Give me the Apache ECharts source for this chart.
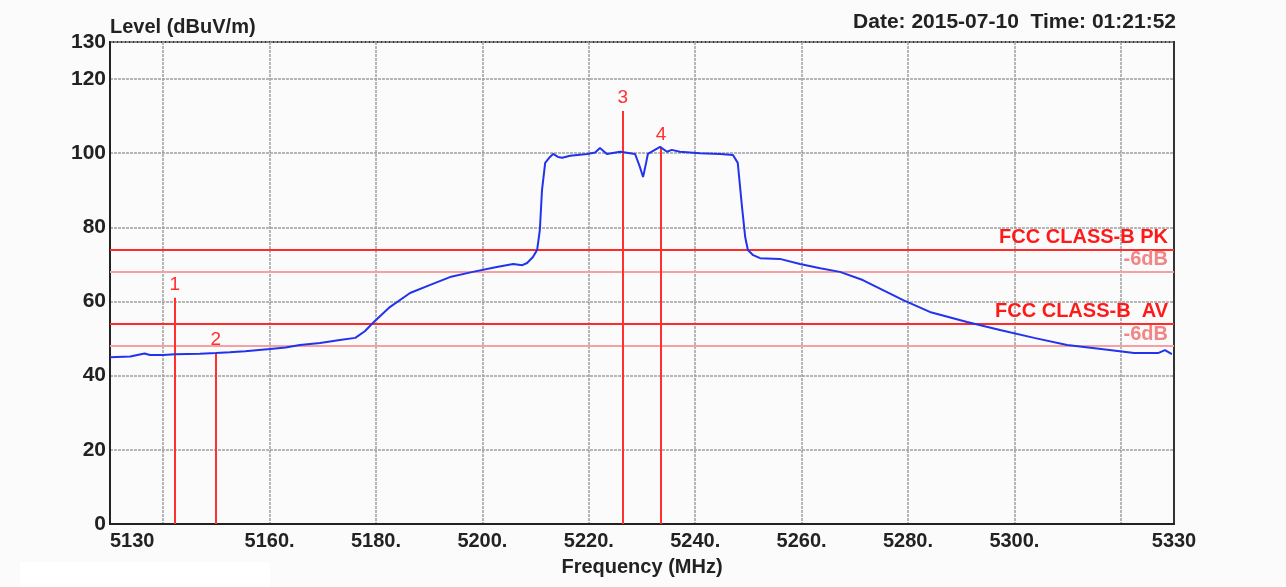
<!DOCTYPE html>
<html>
<head>
<meta charset="utf-8">
<script src="https://cdn.jsdelivr.net/npm/echarts@6/dist/echarts.min.js"></script>
<style>
html,body{margin:0;padding:0;background:#fafbfa;}
#chart{width:1286px;height:587px;}
</style>
</head>
<body>
<div id="chart"></div>
<script>
// Trace (frequency MHz, level dBuV/m)
const freqs = [5130.0,5133.8,5136.5,5137.5,5140.0,5142.2,5146.9,5149.9,5152.5,5155.4,5160.1,5163.0,5165.7,5169.5,5173.2,5176.1,5177.9,5179.4,5182.6,5186.4,5190.2,5193.9,5198.2,5202.7,5205.8,5207.5,5208.4,5209.5,5210.3,5210.8,5211.2,5211.8,5212.7,5213.3,5214.2,5215.0,5216.5,5219.7,5221.2,5222.1,5223.4,5225.9,5228.7,5229.6,5230.2,5230.8,5231.1,5233.4,5234.7,5235.6,5237.1,5240.9,5244.7,5247.1,5248.0,5248.8,5249.4,5249.9,5250.9,5252.2,5255.9,5259.7,5263.5,5267.2,5271.5,5275.3,5279.1,5284.1,5291.1,5297.3,5303.7,5309.9,5316.3,5322.5,5327.0,5328.3,5329.6];
const levels = [45.0,45.2,46.0,45.6,45.6,45.8,45.9,46.1,46.3,46.6,47.2,47.6,48.3,48.8,49.6,50.2,52.0,54.2,58.5,62.3,64.5,66.6,68.0,69.3,70.1,69.8,70.4,72.0,74.0,79.3,90.0,97.4,99.0,99.8,99.0,98.8,99.3,99.8,100.2,101.4,99.8,100.4,99.8,96.3,93.6,97.6,99.8,101.7,100.4,100.9,100.4,100.0,99.8,99.5,97.4,85.5,77.4,73.9,72.5,71.7,71.5,70.1,69.0,68.0,65.8,63.1,60.4,57.2,54.5,52.3,50.2,48.3,47.2,46.1,46.1,46.9,45.8];

// Limit lines
const limitNames = ['FCC CLASS-B PK', '-6dB', 'FCC CLASS-B  AV', '-6dB'];
const limitValues = [74, 68, 54, 48];

// Markers
const markerIds = ['1', '2', '3', '4'];
const markerFreqs = [5142.2, 5149.9, 5226.4, 5233.6];
const markerLevels = [61.0, 46.1, 111.4, 101.4];

// Axis ticks / labels
const xGridValues = [5140, 5160, 5180, 5200, 5220, 5240, 5260, 5280, 5300, 5320];
const xLabelValues = [5130, 5160, 5180, 5200, 5220, 5240, 5260, 5280, 5300, 5330];
const yGridValues = [0, 20, 40, 60, 80, 100, 120, 130];
const yLabelValues = [0, 20, 40, 60, 80, 100, 120, 130];

const FONT = '"Liberation Sans", Arial, sans-serif';
const chart = echarts.init(document.getElementById('chart'), null, {renderer: 'canvas'});

const traceData = freqs.map((f, i) => [f, levels[i]]);

const limitColors = ['#ff2a2a', '#f7a0a0', '#ff2a2a', '#f7a0a0'];
const limitLabelColors = ['#ff1a1a', '#f28585', '#ff1a1a', '#f28585'];

const limitMarkData = limitValues.map((v, i) => ({
  yAxis: v,
  lineStyle: {color: limitColors[i], width: 2, type: 'solid'},
  label: {
    show: true, position: 'insideEndTop', formatter: limitNames[i],
    color: limitLabelColors[i], fontFamily: FONT, fontWeight: 'bold', fontSize: 20,
    distance: [6, 2]
  }
}));

const markerMarkData = markerFreqs.map((f, i) => [
  {coord: [f, 0]},
  {coord: [f, markerLevels[i]],
   label: {show: true, position: 'end', formatter: markerIds[i], color: '#ff3030',
           fontFamily: FONT, fontSize: 19, distance: 4}}
]);

const option = {
  backgroundColor: '#fafbfa',
  animation: false,
  grid: {left: 110, right: 112, top: 42, bottom: 63, show: true,
         borderColor: '#333', borderWidth: 2, backgroundColor: 'transparent'},
  graphic: [
    {type: 'rect', left: 20, top: 562, shape: {width: 250, height: 25},
     style: {fill: '#ffffff'}, silent: true, z: -10},
    {type: 'text', left: 110, top: 17,
     style: {text: 'Level (dBuV/m)', font: 'bold 20px ' + FONT, fill: '#222'}},
    {type: 'text', right: 110, top: 12,
     style: {text: 'Date: 2015-07-10  Time: 01:21:52', font: 'bold 21px ' + FONT, fill: '#222'}}
  ],
  xAxis: {
    type: 'value', min: 5130, max: 5330,
    name: 'Frequency (MHz)', nameLocation: 'middle', nameGap: 33,
    nameTextStyle: {fontFamily: FONT, fontWeight: 'bold', fontSize: 20, color: '#222'},
    axisLine: {show: true, lineStyle: {color: '#222', width: 2}},
    axisTick: {show: false, customValues: xGridValues},
    axisLabel: {
      customValues: xLabelValues,
      formatter: v => (v === 5130 || v === 5330) ? String(v) : v + '.',
      fontFamily: FONT, fontWeight: 'bold', fontSize: 20, color: '#222', margin: 7,
      alignMinLabel: 'left', alignMaxLabel: 'center', showMinLabel: true, showMaxLabel: true
    },
    splitLine: {show: true, lineStyle: {color: '#a0a0a0', width: 1.5, type: [3, 1]}}
  },
  yAxis: {
    type: 'value', min: 0, max: 130,
    axisLine: {show: true, lineStyle: {color: '#222', width: 2}},
    axisTick: {show: false, customValues: yGridValues},
    axisLabel: {
      customValues: yLabelValues,
      fontFamily: FONT, fontWeight: 'bold', fontSize: 21, color: '#222', margin: 4,
      showMinLabel: true, showMaxLabel: true
    },
    splitLine: {show: true, lineStyle: {color: '#a0a0a0', width: 1.5, type: [3, 1]}}
  },
  series: [
    {
      name: 'limits', type: 'line', data: [], silent: true,
      markLine: {symbol: 'none', silent: true, animation: false, data: limitMarkData}
    },
    {
      name: 'markers', type: 'line', data: [], silent: true,
      markLine: {symbol: 'none', silent: true, animation: false,
                 lineStyle: {color: '#ff3030', width: 2, type: 'solid'},
                 data: markerMarkData}
    },
    {
      name: 'trace', type: 'line', data: traceData, showSymbol: false,
      lineStyle: {color: '#2233ee', width: 2}, z: 5
    }
  ]
};
chart.setOption(option);
</script>
</body>
</html>
